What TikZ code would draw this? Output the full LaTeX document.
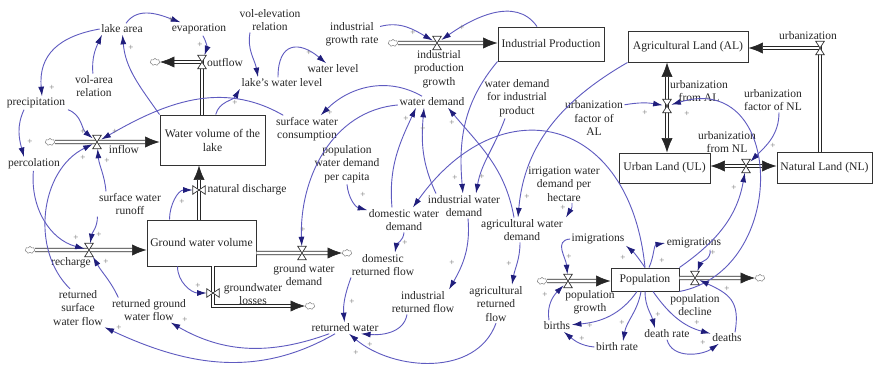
\documentclass[tikz,border=0pt]{standalone}
\usepackage{fontspec}
\setmainfont{Liberation Serif}
\usetikzlibrary{arrows.meta,positioning,calc,shapes.symbols}
\definecolor{linkc}{HTML}{5F5BC0}
\definecolor{tipc}{HTML}{201E7C}
\newcommand{\vlvup}[1]{\filldraw[valveline] (#1.north west) -- (#1.north east) -- (#1.south west) -- (#1.south east) -- cycle;}
\newcommand{\vlvside}[1]{\filldraw[valveline] (#1.north west) -- (#1.south west) -- (#1.north east) -- (#1.south east) -- cycle;}
\tikzset{
  var/.style={font=\fontsize{8.2}{9.6}\selectfont, align=center, inner sep=1pt, text=black!85},
  stock/.style={draw=black!80, line width=0.7pt, fill=white, align=center, inner sep=1pt, text=black!85, font=\fontsize{8.3}{10}\selectfont},
  valve/.style={minimum width=2mm, minimum height=3.2mm, inner sep=0pt},
  sidevalve/.style={minimum width=3mm, minimum height=2mm, inner sep=0pt},
  valveline/.style={fill=white, draw=black!80, line width=0.5pt},
  cloudsym/.style={cloud, cloud puffs=7, aspect=1.3, draw=black!45, line width=0.4pt, minimum width=2.4mm, minimum height=1.8mm, inner sep=0pt},
  pipe/.style={draw=black!85, line width=0.45pt, double=white, double distance=2pt},
  flow/.style={-{Latex[length=3.6mm,width=2.8mm]}},
  flowboth/.style={{Latex[length=3.6mm,width=2.8mm]}-{Latex[length=3.6mm,width=2.8mm]}},
  link/.style={draw=linkc, line width=0.65pt, -{Latex[length=2.4mm,width=1.5mm,color=tipc]}},
  plus/.style={font=\fontsize{6.5}{7}\selectfont, text=black!55, inner sep=0pt}
}
\begin{document}
\begin{tikzpicture}[x=0.25mm,y=0.25mm]
  \useasboundingbox (0,0) rectangle (874,-370);
  % stocks
  \node[stock,minimum width=26.25mm,minimum height=12.5mm] (lake) at (212.5,-140) {Water volume of the\\lake};
  \node[stock,minimum width=27.25mm,minimum height=11.5mm] (gw) at (201.5,-243) {Ground water volume};
  \node[stock,minimum width=26.5mm,minimum height=8.5mm] (indprod) at (551,-44) {Industrial Production};
  \node[stock,minimum width=30mm,minimum height=7.75mm] (al) at (688,-46.5) {Agricultural Land (AL)};
  \node[stock,minimum width=22.75mm,minimum height=7.5mm] (ul) at (664.5,-168) {Urban Land (UL)};
  \node[stock,minimum width=23.75mm,minimum height=7.75mm] (nl) at (824.5,-167.5) {Natural Land (NL)};
  \node[stock,minimum width=17mm,minimum height=5.75mm] (pop) at (645,-279.5) {Population};
  % clouds
  \node[cloudsym] (cin) at (50,-142) {};
  \node[cloudsym] (cout) at (155,-62) {};
  \node[cloudsym] (crch) at (30,-250) {};
  \node[cloudsym] (cgwd) at (347,-253) {};
  \node[cloudsym] (cgwl) at (310,-306) {};
  \node[cloudsym] (cipg) at (393,-43) {};
  \node[cloudsym] (cpg) at (542,-281) {};
  \node[cloudsym] (cpd) at (760,-278) {};
  % valves
  \node[valve] (vin) at (97,-142) {};
  \node[valve] (vout) at (202,-62) {};
  \node[sidevalve] (vnd) at (199,-190) {};
  \node[valve] (vrch) at (89,-250) {};
  \node[valve] (vgwd) at (302,-253) {};
  \node[sidevalve] (vgwl) at (213,-293) {};
  \node[valve] (vipg) at (437,-43) {};
  \node[valve] (vurb) at (820,-48) {};
  \node[valve] (vual) at (667,-106) {};
  \node[valve] (vunl) at (746,-166) {};
  \node[valve] (vpg) at (568,-281) {};
  \node[valve] (vpd) at (695,-278) {};
  % flow labels
  \node[var] (linflow) at (124,-149) {inflow};
  \node[var] (loutflow) at (225,-62) {outflow};
  \node[var] (lnd) at (247,-190) {natural discharge};
  \node[var] (lrch) at (71,-263) {recharge};
  \node[var] (lgwd) at (304,-275) {ground water\\demand};
  \node[var] (lgwl) at (253,-294) {groundwater\\losses};
  \node[var] (lipg) at (439,-69) {industrial\\production\\growth};
  \node[var] (lurb) at (808,-36) {urbanization};
  \node[var] (lual) at (699,-91) {urbanization\\from AL};
  \node[var] (lunl) at (727,-142) {urbanization\\from NL};
  \node[var] (lpg) at (590,-302) {population\\growth};
  \node[var] (lpd) at (695,-305) {population\\decline};
  % auxiliaries
  \node[var] (lakearea) at (122,-29) {lake area};
  \node[var] (evap) at (199,-29) {evaporation};
  \node[var] (volelev) at (270,-20) {vol-elevation\\relation};
  \node[var] (volarea) at (94,-86) {vol-area\\relation};
  \node[var] (precip) at (36,-103) {precipitation};
  \node[var] (percol) at (34,-164) {percolation};
  \node[var] (lwl) at (282,-83) {lake's water level};
  \node[var] (wlev) at (333,-69) {water level};
  \node[var] (igr) at (352,-34) {industrial\\growth rate};
  \node[var] (swc) at (307,-129) {surface water\\consumption};
  \node[var] (pwd) at (347,-164) {population\\water demand\\per capita};
  \node[var] (wd) at (432,-102) {water demand};
  \node[var] (wdip) at (517,-98) {water demand\\for industrial\\product};
  \node[var] (ufal) at (594,-118) {urbanization\\factor of\\AL};
  \node[var] (ufnl) at (773,-100) {urbanization\\factor of NL};
  \node[var] (iwdh) at (564,-184) {irrigation water\\demand per\\hectare};
  \node[var] (dwd) at (404,-220) {domestic water\\demand};
  \node[var] (iwd) at (464,-206) {industrial water\\demand};
  \node[var] (awd) at (522,-230) {agricultural water\\demand};
  \node[var] (drf) at (383,-265) {domestic\\returned flow};
  \node[var] (irf) at (423,-302) {industrial\\returned flow};
  \node[var] (arf) at (496,-304) {agricultural\\returned\\flow};
  \node[var] (rw) at (345,-328) {returned water};
  \node[var] (swr) at (130,-204) {surface water\\runoff};
  \node[var] (rswf) at (78,-308) {returned\\surface\\water flow};
  \node[var] (rgwf) at (149,-310) {returned ground\\water flow};
  \node[var] (imig) at (598,-239) {imigrations};
  \node[var] (emig) at (694,-243) {emigrations};
  \node[var] (births) at (557,-326) {births};
  \node[var] (brate) at (617,-347) {birth rate};
  \node[var] (drate) at (667,-334) {death rate};
  \node[var] (deaths) at (727,-338) {deaths};
  % pipes
  \draw[pipe,flow] (cin) -- (cin -| lake.west);
  \draw[pipe,flow] (lake.north -| vout) |- (cout);
  \draw[pipe,flow] (gw.north -| vnd) -- (lake.south -| vnd);
  \draw[pipe,flow] (crch) -- (crch -| gw.west);
  \draw[pipe,flow] (gw.east |- cgwd) -- (cgwd);
  \draw[pipe,flow] (gw.south -| vgwl) |- (cgwl);
  \draw[pipe,flow] (cipg) -- (cipg -| indprod.west);
  \draw[pipe,flow] (nl.north -| vurb) |- (al.east |- vurb);
  \draw[pipe,flowboth] (al.south -| vual) -- (ul.north -| vual);
  \draw[pipe,flowboth] (ul.east |- vunl) -- (nl.west |- vunl);
  \draw[pipe,flow] (cpg) -- (cpg -| pop.west);
  \draw[pipe,flow] (pop.east |- cpd) -- (cpd);
  \vlvup{vin}\vlvup{vout}\vlvup{vrch}\vlvup{vgwd}\vlvup{vipg}\vlvup{vurb}
  \vlvup{vual}\vlvup{vunl}\vlvup{vpg}\vlvup{vpd}
  \vlvside{vnd}\vlvside{vgwl}
  % water links
  \draw[link] (lakearea) to[out=55,in=160] (evap);
  \draw[link] (evap) to[out=-60,in=70] (vout);
  \draw[link] (lake.north west) to[out=125,in=-85] (lakearea);
  \draw[link] (volarea) to[out=95,in=-115] ([xshift=-5mm]lakearea.south);
  \draw[link] (lakearea.west) to[out=190,in=95,looseness=1.2] ([xshift=1.5mm]precip.north);
  \draw[link] ([xshift=-3mm]precip.south) to[out=-115,in=105] ([xshift=-2.5mm]percol.north);
  \draw[link] ([xshift=8mm]precip.south) to[out=-20,in=140] (vin);
  \draw[link] (swc) to[out=150,in=30] (vin);
  \draw[link] (percol) to[out=-95,in=165] (vrch);
  \draw[link] (swr.south west) to[out=-90,in=80] (vrch);
  \draw[link] ([xshift=-6mm]swr.north) to[out=95,in=-85] (vin);
  \draw[link] ([xshift=-2mm]rswf.north) .. controls (30,-250) and (40,-170) .. (vin);
  \draw[link] ([xshift=2mm]rgwf.north west) to[out=115,in=-60] (vrch);
  \draw[link] (rw) to[out=200,in=-30] (rgwf);
  \draw[link] (rw) to[out=210,in=-25] (rswf.south east);
  \draw[link] ([xshift=0.8mm]lake.north) to[out=75,in=-120] (lwl.south west);
  \draw[link] ([xshift=-5mm]volelev.south) to[out=-100,in=100] ([xshift=-6mm]lwl.north);
  \draw[link] ([xshift=-1mm]lwl.north) to[out=90,in=140,looseness=1.8] (wlev);
  \draw[link] (wd) to[out=150,in=45] (swc);
  \draw[link] (wd) to[out=185,in=92] (vgwd);
  \draw[link] ([xshift=-8mm]gw.north) to[out=90,in=180] (vnd);
  \draw[link] ([xshift=-6mm]gw.south) to[out=-90,in=180] (vgwl);
  % demand links
  \draw[link] (igr) to[out=15,in=150] (vipg);
  \draw[link] ([xshift=-3.5mm]indprod.north) to[out=125,in=35] (vipg);
  \draw[link] (indprod.south west) to[out=-130,in=95] (iwd);
  \draw[link] ([xshift=-3mm]wdip.south) to[out=-110,in=80] ([xshift=3mm]iwd.north);
  \draw[link] ([xshift=-3mm]dwd.north) to[out=95,in=-115] ([xshift=-4mm]wd.south);
  \draw[link] ([xshift=-7mm]iwd.north) to[out=115,in=-95] ([xshift=-2mm]wd.south);
  \draw[link] ([xshift=-2mm]awd.north) to[out=100,in=-50] ([xshift=4mm]wd.south);
  \draw[link] (pwd.south) to[out=-85,in=165] (dwd);
  \draw[link] (pop.north) .. controls (630,-115) and (500,-85) .. (dwd);
  \draw[link] (al.south west) to[out=-150,in=85] ([xshift=-1mm]awd.north);
  \draw[link] ([xshift=2mm]iwdh.south) to[out=-80,in=60] ([xshift=11mm]awd.north);
  \draw[link] (dwd.south) to[out=-95,in=80] ([xshift=3mm]drf.north);
  \draw[link] ([xshift=1mm]iwd.south) to[out=-85,in=60] ([xshift=6.5mm]irf.north);
  \draw[link] ([xshift=-0.5mm]awd.south) to[out=-90,in=80] ([xshift=4mm]arf.north);
  \draw[link] ([xshift=-8mm]drf.south) to[out=-110,in=95] (rw);
  \draw[link] ([xshift=-4mm]irf.south) to[out=-100,in=-5] ([xshift=4mm]rw.south);
  \draw[link] (arf.south) to[out=-110,in=-40] ([xshift=1mm]rw.south);
  % land and population links
  \draw[link] ([yshift=-1.5mm]ufal.north east) to[out=10,in=170] (vual);
  \draw[link] ([xshift=1.5mm]ufnl.south) to[out=-90,in=45] (vunl);
  \draw[link] (pop.north east) to[out=35,in=-100] (vunl);
  \draw[link] (pop.south east) .. controls (790,-270) and (785,-70) .. (vual);
  \draw[link] (imig.west) to[out=185,in=95,looseness=1.2] (vpg);
  \draw[link] ([xshift=-2mm]births.north) to[out=100,in=-135] (vpg);
  \draw[link] ([xshift=-2mm]pop.south) to[out=-125,in=5] (births);
  \draw[link] (brate.west) to[out=175,in=-40] (births);
  \draw[link] ([xshift=-1mm]pop.south) to[out=-100,in=80] ([xshift=1.5mm]brate.north);
  \draw[link] (pop.north) to[out=125,in=-40] (imig.south east);
  \draw[link] ([xshift=1mm]pop.north) to[out=65,in=190] (emig.west);
  \draw[link] ([xshift=4mm]emig.south) to[out=-80,in=70] (vpd);
  \draw[link] (pop.south) to[out=-90,in=105] ([xshift=-3mm]drate.north);
  \draw[link] ([xshift=2mm]pop.south) to[out=-55,in=165] (deaths);
  \draw[link] (drate.south) to[out=-75,in=-145] (deaths);
  \draw[link] ([xshift=2mm]deaths.north) to[out=80,in=-25,looseness=1.3] (vpd);
  % polarity signs
  \foreach \px/\py [count=\i] in {171/20,200/45,131/48,52/88,30/142,83/132,115/132,83/158,107/161,235/103,
    413/33,462/28,309/53,330/113,406/119,423/129,452/123,455/178,482/177,363/195,
    527/197,563/208,405/243,645/113,687/114,773/146,734/188,182/202,76/238,99/235,
    106/262,198/286,185/320,119/328,303/230,452/263,509/264,352/302,370/345,356/353,
    569/257,545/295,590/326,582/339,623/258,662/261,622/323,658/315,697/323,703/343,
    713/253,727/289}
    \node[plus] (plus\i) at (\px,-\py) {+};
\end{tikzpicture}
\end{document}
